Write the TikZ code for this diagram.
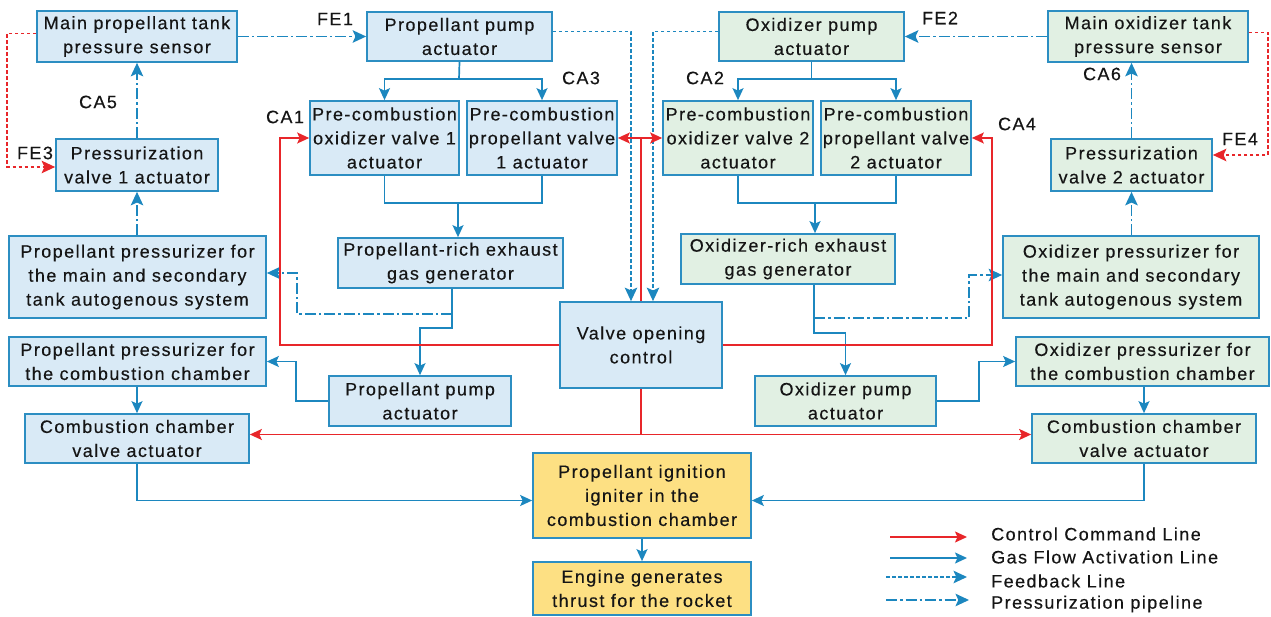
\documentclass[tikz,border=0pt]{standalone}
\usepackage{fontspec}
\setmainfont{Liberation Sans}[LetterSpace=8,FakeBold=0.35]
\usetikzlibrary{arrows.meta,calc}

\definecolor{boxblue}{HTML}{D9EAF6}
\definecolor{boxgreen}{HTML}{E1F0E3}
\definecolor{boxyellow}{HTML}{FDE083}
\definecolor{edgeblue}{HTML}{2C8EC2}
\definecolor{flowblue}{HTML}{1C87BF}
\definecolor{cmdred}{HTML}{E8262A}
\definecolor{ink}{HTML}{151515}

\tikzset{
  box/.style={draw=edgeblue, line width=1.7pt, align=center, inner sep=0pt,
    font=\fontsize{18}{24}\selectfont, text=ink},
  bbox/.style={box, fill=boxblue},
  gbox/.style={box, fill=boxgreen},
  ybox/.style={box, fill=boxyellow},
  lbl/.style={font=\fontsize{18}{24}\selectfont, text=ink, inner sep=0pt},
  arr/.style={-{Stealth[length=12pt,width=11pt,inset=2.5pt]}},
  darr/.style={-{Stealth[length=13.5pt,width=12.5pt,inset=2.8pt]}},
  flow/.style={draw=flowblue, line width=1.7pt, arr},
  cmd/.style={draw=cmdred, line width=1.7pt, arr},
  fb/.style={flow, darr, dash pattern=on 3.5pt off 2.5pt},
  press/.style={flow, darr, dash pattern=on 11pt off 3pt on 2.5pt off 3pt},
  fbred/.style={cmd, darr, dash pattern=on 3.5pt off 2.5pt},
}

\begin{document}
\begin{tikzpicture}[x=1pt,y=-1pt]
\useasboundingbox (0,0) rectangle (1271,617);

% ---- boxes ----
\node[bbox, minimum width=200pt, minimum height=51pt] (mpt) at (137,36.5) {Main propellant tank\\pressure sensor};
\node[bbox, minimum width=185pt, minimum height=49pt] (ppa) at (459.5,36.5) {Propellant pump\\actuator};
\node[bbox, minimum width=149pt, minimum height=74pt] (po1) at (384.5,138) {Pre-combustion\\oxidizer valve 1\\actuator};
\node[bbox, minimum width=150pt, minimum height=74pt] (pp1) at (542,138) {Pre-combustion\\propellant valve\\1 actuator};
\node[gbox, minimum width=185pt, minimum height=49pt] (opa) at (811.5,36.5) {Oxidizer pump\\actuator};
\node[gbox, minimum width=150pt, minimum height=74pt] (po2) at (738,138) {Pre-combustion\\oxidizer valve 2\\actuator};
\node[gbox, minimum width=150pt, minimum height=74pt] (pp2) at (896,138) {Pre-combustion\\propellant valve\\2 actuator};
\node[gbox, minimum width=200pt, minimum height=51pt] (mot) at (1148,36.5) {Main oxidizer tank\\pressure sensor};
\node[bbox, minimum width=162pt, minimum height=52pt] (pv1) at (137,165) {Pressurization\\valve 1 actuator};
\node[gbox, minimum width=161pt, minimum height=52pt] (pv2) at (1131.5,165) {Pressurization\\valve 2 actuator};
\node[bbox, minimum width=257pt, minimum height=82pt] (ppm) at (137.5,277) {Propellant pressurizer for\\the main and secondary\\tank autogenous system};
\node[bbox, minimum width=225pt, minimum height=50pt] (prg) at (450.5,263) {Propellant-rich exhaust\\gas generator};
\node[gbox, minimum width=214pt, minimum height=50pt] (org) at (788,259) {Oxidizer-rich exhaust\\gas generator};
\node[gbox, minimum width=256pt, minimum height=82pt] (opm) at (1131,277) {Oxidizer pressurizer for\\the main and secondary\\tank autogenous system};
\node[bbox, minimum width=162pt, minimum height=86pt] (voc) at (641,345) {Valve opening\\control};
\node[bbox, minimum width=257pt, minimum height=49pt] (ppc) at (137.5,361.5) {Propellant pressurizer for\\the combustion chamber};
\node[bbox, minimum width=182pt, minimum height=50pt] (ppa2) at (420,401) {Propellant pump\\actuator};
\node[gbox, minimum width=181pt, minimum height=50pt] (opa2) at (845.5,401) {Oxidizer pump\\actuator};
\node[gbox, minimum width=253pt, minimum height=49pt] (opc) at (1142.5,361.5) {Oxidizer pressurizer for\\the combustion chamber};
\node[bbox, minimum width=224pt, minimum height=49pt] (ccl) at (137,438.5) {Combustion chamber\\valve actuator};
\node[gbox, minimum width=224pt, minimum height=49pt] (ccr) at (1144,438.5) {Combustion chamber\\valve actuator};
\node[ybox, minimum width=218pt, minimum height=85pt] (ign) at (642,495.5) {Propellant ignition\\igniter in the\\combustion chamber};
\node[ybox, minimum width=218pt, minimum height=53pt] (eng) at (642,588.5) {Engine generates\\thrust for the rocket};

% ---- junction points ----
\coordinate (sp) at (459,79);
\coordinate (so) at (815,79);
\coordinate (jp) at (458,203);
\coordinate (jo) at (815,203);
\coordinate (pt) at (452,314);
\coordinate (ot) at (814,318);

% ---- pressurization pipelines ----
\draw[press] (mpt.east) -- (ppa.west);
\draw[press] (mot.west) -- (opa.east);
\draw[press] (pv1.north) -- (mpt.south);
\draw[press] (pv1.south |- ppm.north) -- (pv1.south);
\draw[press] (pv2.north) -- (pv2.north |- mot.south);
\draw[press] (pv2.south |- opm.north) -- (pv2.south);
\draw[press] (pt) -| ($(ppm.east)+(30,-4)$) -- ($(ppm.east)+(0,-4)$);
\draw[press] (ot) -| ($(opm.west)+(-33,-2)$) -- ($(opm.west)+(0,-2)$);

% ---- gas flow activation ----
\draw[flow,-] (ppa.south) -- (sp);
\draw[flow] (sp) -| (po1.north);
\draw[flow] (sp) -| (pp1.north);
\draw[flow,-] (opa.south) -- (opa.south |- so) -- (so);
\draw[flow] (so) -| (po2.north);
\draw[flow] (so) -| (pp2.north);
\draw[flow,-] (po1.south) |- (jp) -| (pp1.south);
\draw[flow] (jp) -- (jp |- prg.north);
\draw[flow,-] (po2.south) |- (jo) -| (pp2.south);
\draw[flow] (jo) -- (jo |- org.north);
\draw[flow,-] (pt |- prg.south) -- (pt);
\draw[flow] (pt) -- ++(0,14) -| (ppa2.north);
\draw[flow,-] (ot |- org.south) -- (ot);
\draw[flow] (ot) -- ++(0,15) -| (opa2.north);
\draw[flow] (ppa2.west) -- ++(-32,0) |- (ppc.east);
\draw[flow] (opa2.east) -- ++(42,0) |- (opc.west);
\draw[flow] (ccl.north |- ppc.south) -- (ccl.north);
\draw[flow] (ccr.north |- opc.south) -- (ccr.north);
\draw[flow] (ccl.south) |- ($(ign.west)+(0,5)$);
\draw[flow] (ccr.south) |- ($(ign.east)+(0,5)$);
\draw[flow] (ign) -- (eng);

% ---- feedback lines ----
\draw[fb] ($(ppa.east)+(0,-5)$) -| ($(voc.north)+(-10,0)$);
\draw[fb] ($(opa.west)+(0,-5)$) -| ($(voc.north)+(12,0)$);
\draw[fbred] ($(mpt.west)+(0,-3)$) -- ++(-29,0) |- ($(pv1.west)+(0,2)$);
\draw[fbred] ($(mot.east)+(0,-4)$) -- ++(19,0) |- ($(pv2.east)+(0,-10)$);

% ---- control commands ----
\coordinate (vt) at (voc.north |- pp1.east);
\draw[cmd,-] (voc.north) -- (vt);
\draw[cmd] (vt) -- (pp1.east);
\draw[cmd] (vt) -- (po2.west);
\draw[cmd] (voc.west) -- ++(-279,0) |- (po1.west);
\draw[cmd] (voc.east) -- ++(269,0) |- (pp2.east);
\coordinate (vb) at ($(voc.south |- ccl.east)+(0,-4)$);
\draw[cmd,-] (voc.south) -- (vb);
\draw[cmd] (vb) -- ($(ccl.east)+(0,-4)$);
\draw[cmd] (vb) -- ($(ccr.west)+(0,-4)$);

% ---- line labels ----
\node[lbl] (fe1) at (335,19) {FE1};
\node[lbl] (fe2) at (940,18) {FE2};
\node[lbl] (fe3) at (35,153) {FE3};
\node[lbl] (fe4) at (1240,139) {FE4};
\node[lbl] (ca1) at (285,117) {CA1};
\node[lbl] (ca2) at (705,78) {CA2};
\node[lbl] (ca3) at (581,78) {CA3};
\node[lbl] (ca4) at (1017,124) {CA4};
\node[lbl] (ca5) at (98,102) {CA5};
\node[lbl] (ca6) at (1102,74) {CA6};

% ---- legend ----
\coordinate (la1) at (890,537); \coordinate (lb1) at (967,537);
\coordinate (la2) at (890,558); \coordinate (lb2) at (967,558);
\coordinate (la3) at (886,577); \coordinate (lb3) at (967,577);
\coordinate (la4) at (886,600); \coordinate (lb4) at (969,600);
\draw[cmd] (la1) -- (lb1);
\draw[flow] (la2) -- (lb2);
\draw[fb] (la3) -- (lb3);
\draw[press] (la4) -- (lb4);
\node[lbl, anchor=west] (t1) at (991,534) {Control Command Line};
\node[lbl, anchor=west] (t2) at (991,557) {Gas Flow Activation Line};
\node[lbl, anchor=west] (t3) at (991,581) {Feedback Line};
\node[lbl, anchor=west] (t4) at (991,604) {Pressurization pipeline};
\end{tikzpicture}
\end{document}
